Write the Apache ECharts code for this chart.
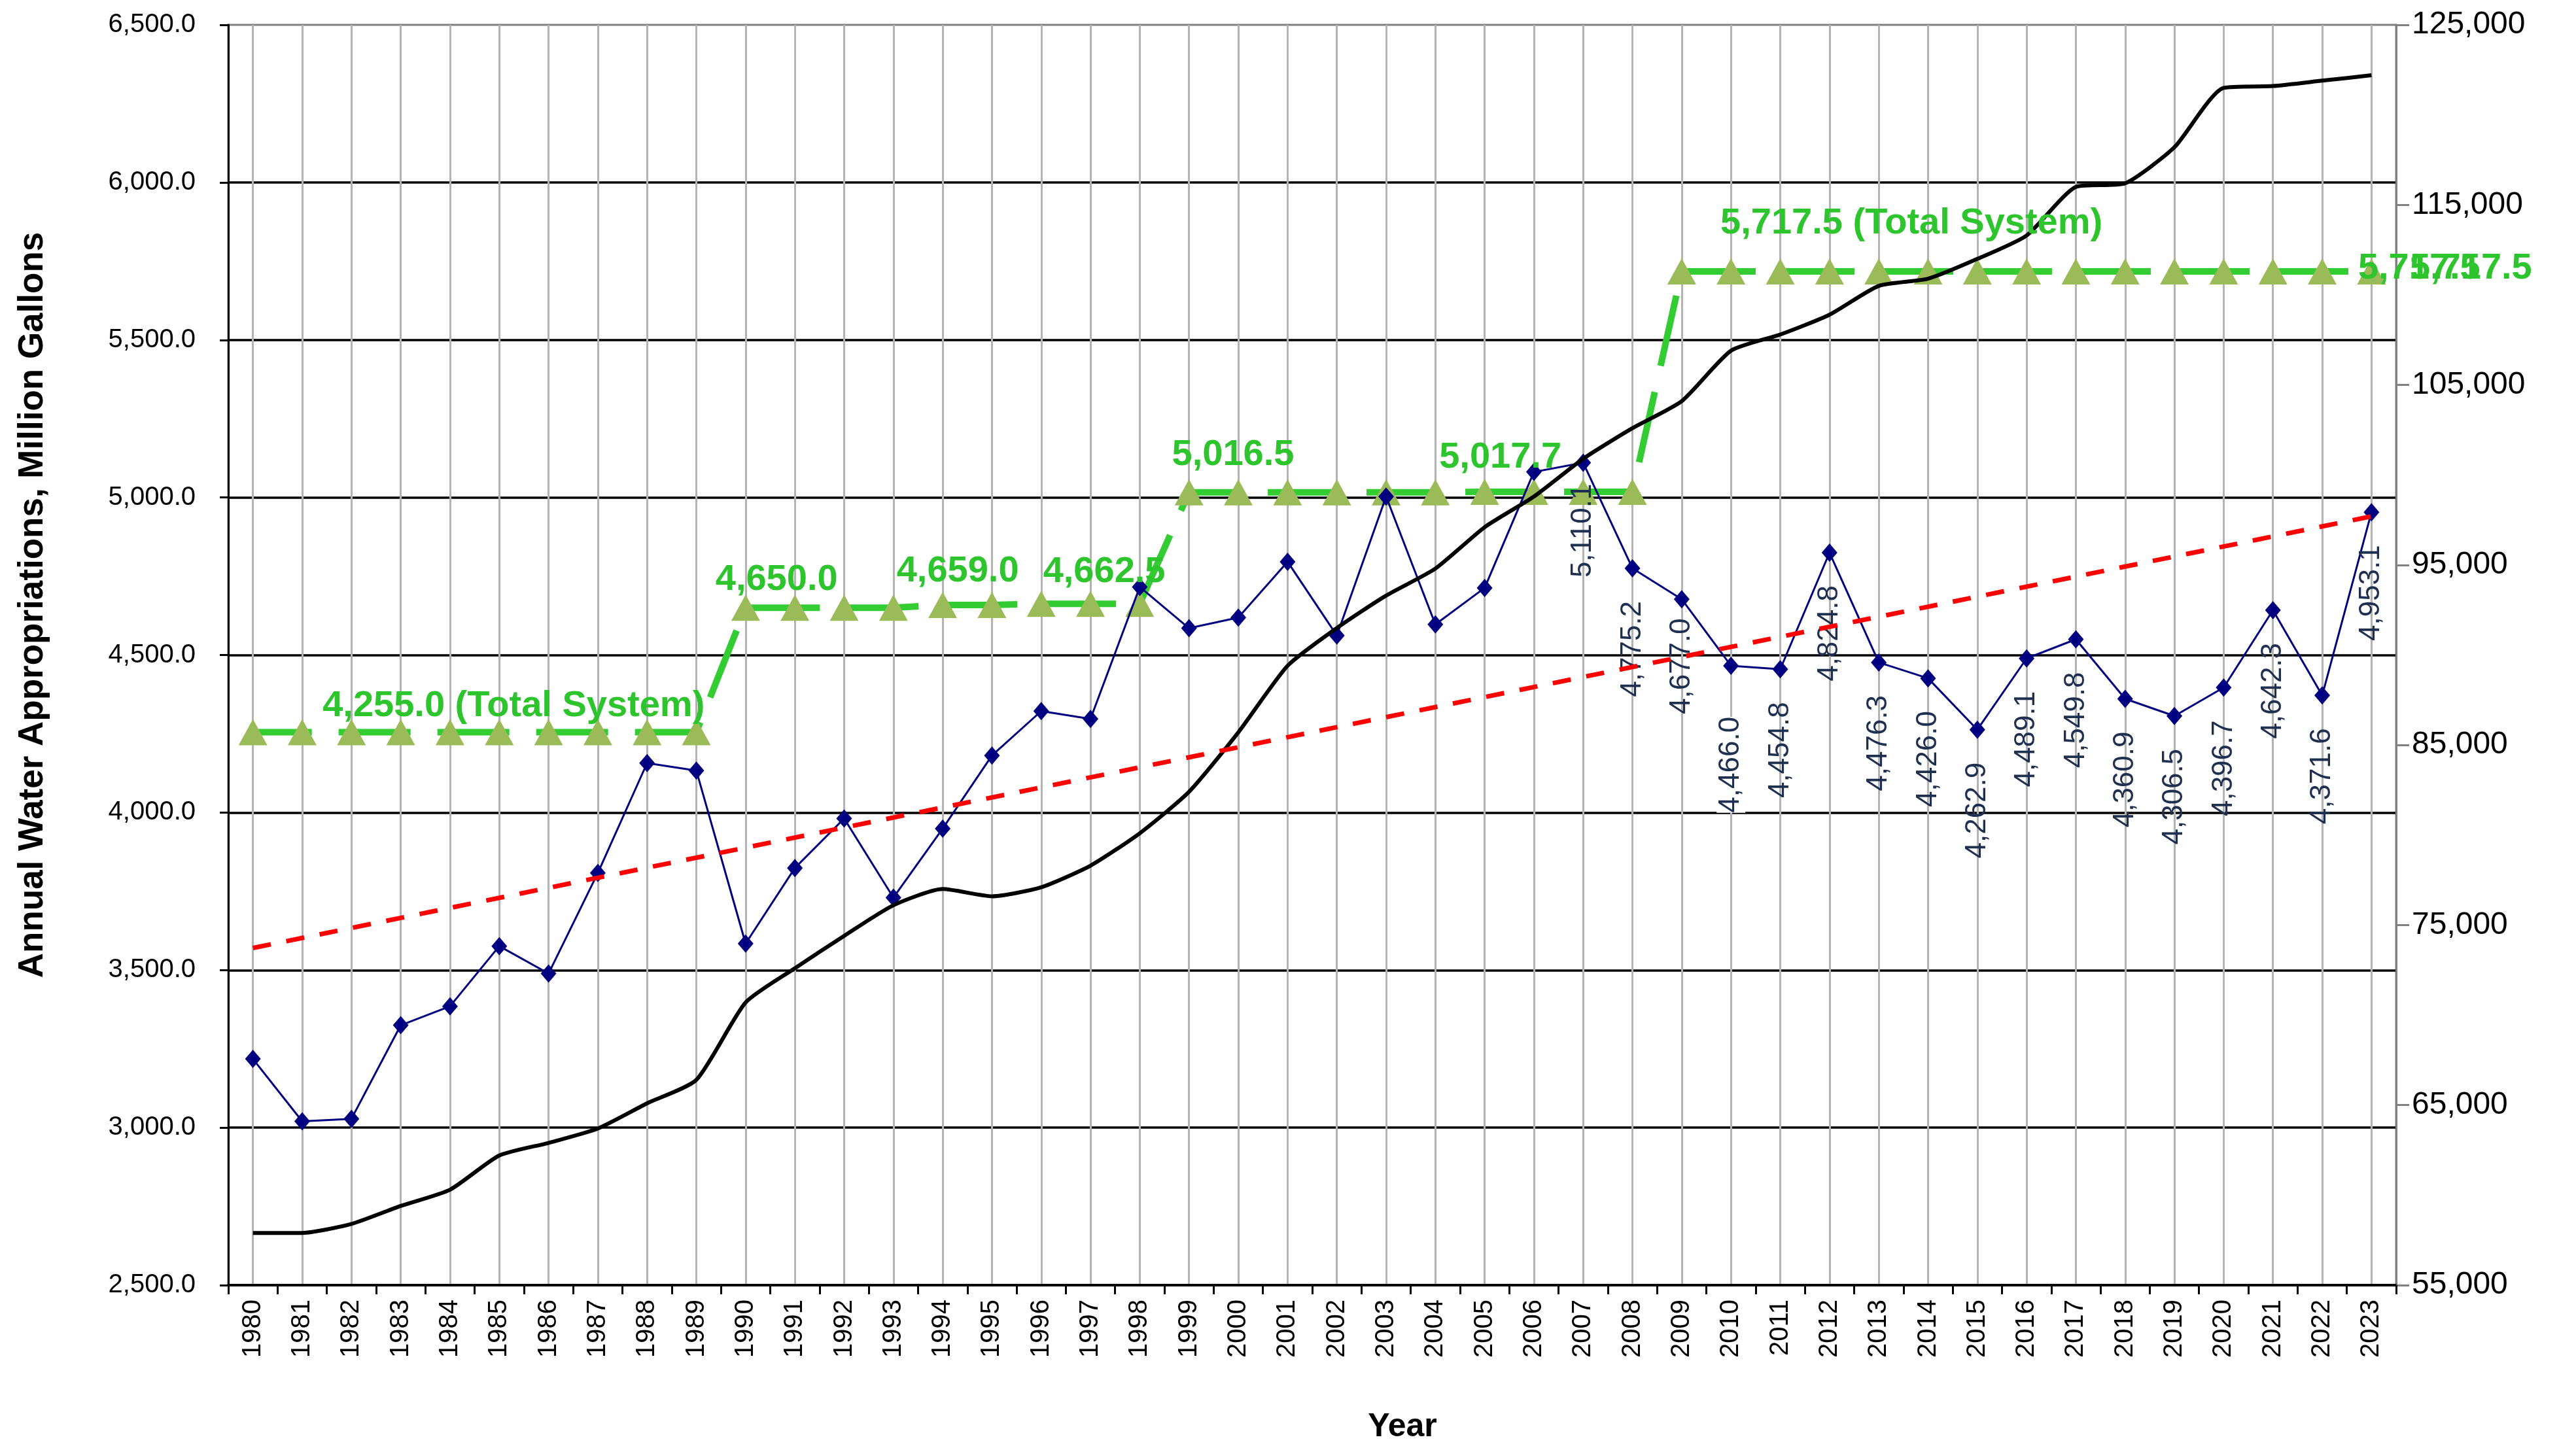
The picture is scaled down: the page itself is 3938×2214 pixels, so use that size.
<!DOCTYPE html>
<html>
<head>
    <meta charset="utf-8">
    <title>Annual Water Appropriations</title>
    <script src="https://cdn.jsdelivr.net/npm/echarts@6/dist/echarts.min.js"></script>
    <style>
        html, body {
            margin: 0;
            padding: 0;
            background: #fff;
        }
        #chart {
            width: 3938px;
            height: 2214px;
        }
    </style>
</head>
<body>
<div id="chart"></div>
<script>
    // categories
    var years = ['1980','1981','1982','1983','1984','1985','1986','1987','1988','1989',
                 '1990','1991','1992','1993','1994','1995','1996','1997','1998','1999',
                 '2000','2001','2002','2003','2004','2005','2006','2007','2008','2009',
                 '2010','2011','2012','2013','2014','2015','2016','2017','2018','2019',
                 '2020','2021','2022','2023'];

    // annual appropriations, million gallons (left axis)
    var appropriations = [3218, 3020, 3028, 3325, 3385, 3576, 3489, 3808, 4157, 4133,
                          3584, 3824, 3981, 3730, 3949, 4181, 4322, 4297, 4716, 4585,
                          4619, 4796, 4562, 5003, 4597, 4713, 5081, 5110.1, 4775.2, 4677.0,
                          4466.0, 4454.8, 4824.8, 4476.3, 4426.0, 4262.9, 4489.1, 4549.8, 4360.9, 4306.5,
                          4396.7, 4642.3, 4371.6, 4953.1];

    // total system capacity (left axis)
    var totalSystem = [4255.0, 4255.0, 4255.0, 4255.0, 4255.0, 4255.0, 4255.0, 4255.0, 4255.0, 4255.0,
                       4650.0, 4650.0, 4650.0, 4650.0, 4659.0, 4659.0, 4662.5, 4662.5, 4662.5, 5016.5,
                       5016.5, 5016.5, 5016.5, 5016.5, 5016.5, 5017.7, 5017.7, 5017.7, 5017.7, 5717.5,
                       5717.5, 5717.5, 5717.5, 5717.5, 5717.5, 5717.5, 5717.5, 5717.5, 5717.5, 5717.5,
                       5717.5, 5717.5, 5717.5, 5717.5];

    // black line on the right axis
    var rightSeries = [57900, 57900, 58400, 59400, 60300, 62200, 62900, 63700, 65100, 66400,
                       70700, 72600, 74400, 76100, 77000, 76600, 77100, 78300, 80100, 82400,
                       85700, 89400, 91500, 93300, 94800, 97100, 98800, 100900, 102600, 104100,
                       106900, 107800, 108900, 110500, 110900, 112000, 113300, 116000, 116200, 118200,
                       121500, 121600, 121900, 122200];

    // trend line end values (first and last year)
    var trendEnds = [3570, 4940];

    // axis ranges
    var leftAxis = { min: 2500, max: 6500, step: 500 };
    var rightAxis = { min: 55000, max: 125000, step: 10000 };

    // green annotations: [year index, text suffix, dx, dy]
    var greenNotes = [
        [5, ' (Total System)', 22, -40],
        [11, '', -28, -43],
        [14, '', 23, -51],
        [17, '', 21, -49],
        [20, '', -8, -57],
        [25, '', 24, -53],
        [33, ' (Total System)', 50, -73],
        [43, '', 73, -4],
        [43, '', 152, -4]
    ];

    var firstLabelled = 27; // 2007
    var labelGap = { 27: 18, 29: 15, 30: 64 };

    function fmt1(v) {
        return v.toLocaleString('en-US', { minimumFractionDigits: 1, maximumFractionDigits: 1 });
    }
    function fmt0(v) {
        return v.toLocaleString('en-US', { maximumFractionDigits: 0 });
    }

    var font = 'Liberation Sans, Arial, sans-serif';
    var green = '#2ec42e';

    var blueData = appropriations.map(function (v, i) {
        if (i < firstLabelled) return v;
        var item = {
            value: v,
            label: {
                show: true,
                distance: labelGap[i] !== undefined ? labelGap[i] : 36
            }
        };
        if (i === 30) {
            item.label.backgroundColor = '#fff';
        }
        return item;
    });

    var trendData = years.map(function (y, i) {
        if (i === 0) return trendEnds[0];
        if (i === years.length - 1) return trendEnds[1];
        return '-';
    });

    var markData = greenNotes.map(function (n) {
        return {
            coord: [n[0], totalSystem[n[0]]],
            label: {
                offset: [n[2], n[3]],
                formatter: fmt1(totalSystem[n[0]]) + n[1]
            }
        };
    });

    var myChart = echarts.init(document.getElementById('chart'), null, { renderer: 'canvas' });

    var option = {
        animation: false,
        backgroundColor: '#fff',
        textStyle: { fontFamily: font },
        grid: {
            left: 349,
            right: 275,
            top: 38,
            bottom: 249,
            show: true,
            borderColor: '#808080',
            borderWidth: 3,
            backgroundColor: 'transparent'
        },
        xAxis: {
            type: 'category',
            data: years,
            boundaryGap: true,
            axisLine: { lineStyle: { color: '#000', width: 4 } },
            axisTick: { show: true, length: 14, lineStyle: { color: '#000', width: 3 } },
            axisLabel: {
                rotate: 90,
                interval: 0,
                fontSize: 40,
                color: '#000',
                margin: 22,
                fontFamily: font
            },
            splitLine: {
                show: true,
                alignWithLabel: true,
                lineStyle: { color: '#b3b3b3', width: 3 }
            }
        },
        yAxis: [
            {
                type: 'value',
                position: 'left',
                min: leftAxis.min,
                max: leftAxis.max,
                interval: leftAxis.step,
                axisLine: { show: true, lineStyle: { color: '#000', width: 3 } },
                axisTick: { show: true, length: 13, lineStyle: { color: '#000', width: 3 } },
                axisLabel: {
                    fontSize: 40,
                    color: '#000',
                    margin: 50,
                    fontFamily: font,
                    formatter: function (v) { return fmt1(v); }
                },
                splitLine: {
                    show: true,
                    showMaxLine: false,
                    lineStyle: { color: '#000', width: 3.5 }
                }
            },
            {
                type: 'value',
                position: 'right',
                min: rightAxis.min,
                max: rightAxis.max,
                interval: rightAxis.step,
                axisLine: { show: true, lineStyle: { color: '#808080', width: 3 } },
                axisTick: { show: true, length: 20, lineStyle: { color: '#808080', width: 3 } },
                axisLabel: {
                    fontSize: 48,
                    color: '#000',
                    margin: 24,
                    fontFamily: font,
                    formatter: function (v) { return fmt0(v); }
                },
                splitLine: { show: false }
            }
        ],
        graphic: [
            {
                type: 'text',
                x: 50,
                y: 925,
                rotation: Math.PI / 2,
                style: {
                    text: 'Annual Water Appropriations, Million Gallons',
                    fontSize: 53,
                    fontWeight: 'bold',
                    fontFamily: font,
                    fill: '#000',
                    align: 'center',
                    verticalAlign: 'middle'
                }
            },
            {
                type: 'text',
                x: 2144,
                y: 2182,
                style: {
                    text: 'Year',
                    fontSize: 50,
                    fontWeight: 'bold',
                    fontFamily: font,
                    fill: '#000',
                    align: 'center',
                    verticalAlign: 'middle'
                }
            }
        ],
        series: [
            {
                name: 'Total System',
                type: 'line',
                yAxisIndex: 0,
                data: totalSystem,
                symbol: 'triangle',
                symbolSize: [44, 40],
                itemStyle: { color: '#9bbb59' },
                lineStyle: { color: '#33cc33', width: 10, type: [110, 41], dashOffset: 20 },
                z: 2,
                markPoint: {
                    symbol: 'circle',
                    symbolSize: 1,
                    itemStyle: { color: 'rgba(0,0,0,0)' },
                    label: {
                        show: true,
                        position: 'inside',
                        fontSize: 56,
                        fontWeight: 'bold',
                        color: green,
                        fontFamily: font
                    },
                    data: markData
                }
            },
            {
                name: 'Appropriations',
                type: 'line',
                yAxisIndex: 0,
                data: blueData,
                symbol: 'diamond',
                symbolSize: [24, 28],
                itemStyle: { color: '#000080' },
                lineStyle: { color: '#000080', width: 3 },
                z: 3,
                label: {
                    show: false,
                    position: 'bottom',
                    rotate: 90,
                    align: 'right',
                    verticalAlign: 'middle',
                    fontSize: 44,
                    color: '#1f2f4f',
                    fontFamily: font,
                    formatter: function (p) { return fmt1(p.value); }
                }
            },
            {
                name: 'Right',
                type: 'line',
                yAxisIndex: 1,
                data: rightSeries,
                symbol: 'none',
                smooth: 0.2,
                lineStyle: { color: '#000', width: 6 },
                z: 4
            },
            {
                name: 'Trend',
                type: 'line',
                yAxisIndex: 0,
                data: trendData,
                connectNulls: true,
                symbol: 'none',
                lineStyle: { color: '#ff0000', width: 7, type: [28, 24] },
                z: 5
            }
        ]
    };

    myChart.setOption(option);
</script>
</body>
</html>
